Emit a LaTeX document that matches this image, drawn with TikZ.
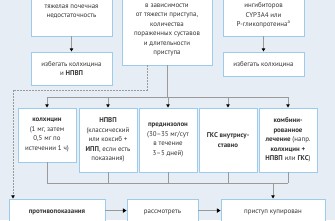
\documentclass[tikz,border=0pt]{standalone}
\usepackage{fontspec}
\setmainfont{PT Sans}
\usetikzlibrary{arrows.meta,fit}
\definecolor{bg}{HTML}{E6EDF5}
\definecolor{boxc}{HTML}{9DCBEB}
\definecolor{linec}{HTML}{9A9A9A}
\definecolor{txtc}{HTML}{333333}
\newcommand\fsz{\fontsize{6.9}{9.4}\selectfont}
\begin{document}
\begin{tikzpicture}[x=1pt,y=-1pt,
  box/.style={draw=boxc, fill=white, line width=0.9pt, inner sep=0pt},
  txt/.style={align=center, font=\fsz, text=txtc, inner sep=0pt},
  conn/.style={draw=linec, line width=0.8pt},
  arr/.style={conn, -{Triangle[length=3.2pt,width=3.4pt,color=black]}},
  tarr/.style={draw=linec, line width=1.8pt, -{Triangle[length=3.6pt,width=4.2pt,color=black]}},
  midbox/.style={box, txt, minimum width=58pt, minimum height=64pt}
]
\useasboundingbox[fill=bg] (0,0) rectangle (335,220);
\clip (0,0) rectangle (335,220);

% top row
\node[box, fit={(31,-14) (112,36)}] (A) {};
\node[txt] (At) at (71.5,11.5) {тяжелая почечная\\недостаточность};
\node[box, txt, minimum width=81pt, minimum height=33pt] (A2) at (71.5,68.5) {избегать колхицина\\и \textbf{НПВП}};

\node[box, fit={(122,-14) (212,65)}] (B) {};
\node[txt] (Bt) at (167,30) {в зависимости\\от тяжести приступа,\\количества\\пораженных суставов\\и длительности\\приступа};

\node[box, fit={(223,-14) (304,36)}] (C) {};
\node[txt] (Ct) at (263.5,15.5) {ингибиторов\\CYP3A4 или\\P-гликопротеина\textsuperscript{а}};
\node[box, txt, minimum width=81pt, minimum height=24pt] (C2) at (263.5,64) {избегать колхицина};

% middle row
\node[box, txt, minimum width=58pt, minimum height=54pt] (D) at (47,135) {\textbf{колхицин}\\(1 мг, затем\\0,5 мг по\\истечении 1 ч)};
\node[midbox] (E) at (108,140) {\textbf{НПВП}\\(классический\\или коксиб +\\\textbf{ИПП}, если есть\\показания)};
\node[midbox] (F) at (168,140) {\textbf{преднизолон}\\(30–35 мг/сут\\в течение\\3–5 дней)};
\node[midbox] (G) at (228,140) {\textbf{ГКС внутрису-}\\\textbf{ставно}};
\node[midbox] (H) at (288,140) {\textbf{комбини-}\\\textbf{рованное}\\\textbf{лечение} (напр.\\\textbf{колхицин +}\\\textbf{НПВП} или \textbf{ГКС})};

% bottom row
\node[box, fit={(9,199) (105,240)}] (I) {};
\node[txt] (It) at (57,212) {\textbf{противопоказания}};
\node[box, fit={(127,199) (198,240)}] (J) {};
\node[txt] (Jt) at (162.5,212) {рассмотреть};
\node[box, fit={(221,199) (325,240)}] (K) {};
\node[txt] (Kt) at (273,212) {приступ купирован};

% connectors
\draw[arr] (A.south) -- (A2.north);
\draw[arr] (C.south) -- (C2.north);

\coordinate (d1) at (147,90);
\coordinate (d2) at (13,90);
\draw[arr, dash pattern=on 1.6pt off 1.4pt] (B.south -| d1) -- (d1) -- (d2) -- (d2 |- I.north);

\coordinate (bus) at (0,97);
\draw[conn] (B.south) -- (B.south |- bus);
\draw[conn] (D.north |- bus) -- (H.north |- bus);
\foreach \n in {D,E,F,G,H} \draw[arr] (\n.north |- bus) -- (\n.north);

\coordinate (bus2) at (0,183);
\foreach \n in {D,E,F,G,H} \draw[conn] (\n.south) -- (\n.south |- bus2);
\draw[conn] (D.south |- bus2) -- (H.south |- bus2);
\draw[arr] (K.north |- bus2) -- (K.north);

\draw[tarr] ([yshift=-12pt]I.north east) -- ([yshift=-12pt]J.north west);
\draw[tarr] ([yshift=-12pt]J.north east) -- ([yshift=-12pt]K.north west);
\end{tikzpicture}
\end{document}
